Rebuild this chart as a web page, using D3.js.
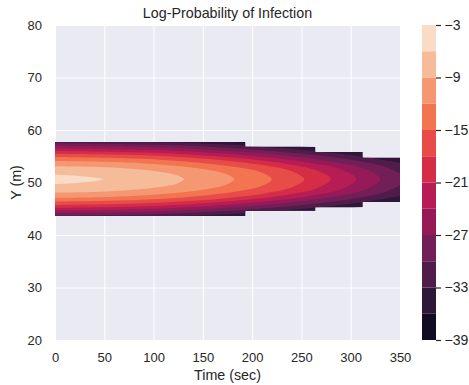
<!DOCTYPE html>
<html>
<head>
<meta charset="utf-8">
<script src="https://cdn.jsdelivr.net/npm/d3@7/dist/d3.min.js"></script>
<style>
  body { margin: 0; background: #fff; }
  text { font-family: "Liberation Sans", Arial, sans-serif; fill: #262626; }
</style>
</head>
<body>
<div id="chart"></div>
<script>
// colour levels of the filled contour (log-probability)
const levels = [-39, -36, -33, -30, -27, -24, -21, -18, -15, -12, -9, -6, -3];
const bandColors = ['#120b24', '#2f1739', '#501c4a', '#721f57', '#961a58', '#b71d54',
                    '#d62d47', '#e84c48', '#f27450', '#f59872', '#f6bb99', '#f9dbc6'];
const xTicks = [0, 50, 100, 150, 200, 250, 300, 350];
const yTicks = [20, 30, 40, 50, 60, 70, 80];
const cbarTicks = [-3, -9, -15, -21, -27, -33, -39];

// centre line of the plume (m)
const plumeY = 50.6;
// region where the field was computed: [t0, t1, yLow, yHigh]
const domainSteps = [
  [0, 193, 43.6, 57.7],
  [193, 264, 44.6, 56.8],
  [264, 312, 45.3, 55.8],
  [312, 350, 46.3, 54.7]
];

// contour lines: [time, half-width (m)] for each level
const contourLevels = [-36, -33, -30, -27, -24, -21, -18, -15, -12, -9, -6];
const halfWidths = [
  [[0, 7.9], [125, 7.54], [208, 6.84], [291, 5.64], [353, 4.16], [394, 2.46], [415, 0]],
  [[0, 7.4], [116, 7.06], [193, 6.41], [270, 5.28], [327, 3.9], [366, 2.31], [385, 0]],
  [[0, 6.9], [107, 6.58], [178, 5.98], [249, 4.93], [303, 3.64], [338, 2.15], [356, 0]],
  [[0, 6.4], [99, 6.11], [165, 5.54], [231, 4.57], [281, 3.37], [314, 2.0], [330, 0]],
  [[0, 5.9], [92, 5.63], [153, 5.11], [214, 4.21], [260, 3.11], [291, 1.84], [306, 0]],
  [[0, 5.4], [84, 5.15], [140, 4.68], [196, 3.86], [238, 2.85], [266, 1.68], [280, 0]],
  [[0, 4.9], [76, 4.67], [127, 4.24], [177, 3.5], [215, 2.58], [240, 1.53], [253, 0]],
  [[0, 4.25], [66, 4.05], [110, 3.68], [154, 3.03], [187, 2.24], [209, 1.33], [220, 0]],
  [[0, 3.5], [55, 3.34], [91, 3.03], [127, 2.5], [155, 1.84], [173, 1.09], [182, 0]],
  [[0, 2.5], [39, 2.39], [66, 2.17], [92, 1.79], [111, 1.32], [124, 0.78], [131, 0]],
  [[0, 0.9], [15, 0.8], [30, 0.55], [42, 0.3], [49, 0]]
];

const W = 469, H = 385;
const svg = d3.select('#chart').append('svg')
  .attr('width', W)
  .attr('height', H);

const x = d3.scaleLinear().domain([0, 350]).range([55, 400]);
const y = d3.scaleLinear().domain([20, 80]).range([340, 25]);

// axes background
svg.append('rect')
  .attr('x', x(0)).attr('y', y(80))
  .attr('width', x(350) - x(0)).attr('height', y(20) - y(80))
  .attr('fill', '#eaeaf2');

// grid
svg.append('g')
  .attr('transform', 'translate(0,' + y(20) + ')')
  .call(d3.axisBottom(x).tickValues(xTicks).tickSize(-(y(20) - y(80))).tickFormat(''))
  .call(g => g.select('.domain').remove())
  .call(g => g.selectAll('line').attr('stroke', '#fff').attr('stroke-width', 1));
svg.append('g')
  .attr('transform', 'translate(' + x(0) + ',0)')
  .call(d3.axisLeft(y).tickValues(yTicks).tickSize(-(x(350) - x(0))).tickFormat(''))
  .call(g => g.select('.domain').remove())
  .call(g => g.selectAll('line').attr('stroke', '#fff').attr('stroke-width', 1));

// staircase outline of the computed region
const domainPts = [];
domainSteps.forEach(s => { domainPts.push([s[0], s[3]], [s[1], s[3]]); });
domainSteps.slice().reverse().forEach(s => { domainPts.push([s[1], s[2]], [s[0], s[2]]); });
const domainPath = d3.line().x(d => x(d[0])).y(d => y(d[1]))(domainPts) + 'Z';

svg.append('clipPath').attr('id', 'field')
  .append('path').attr('d', domainPath);

const field = svg.append('g').attr('clip-path', 'url(#field)');

// lowest band fills the whole computed region
field.append('path')
  .attr('d', domainPath)
  .attr('fill', bandColors[0]);

// each higher level drawn on top
const contourLine = d3.line()
  .x(d => x(d[0]))
  .y(d => y(d[1]))
  .curve(d3.curveCatmullRom.alpha(0.5));

contourLevels.forEach((lev, i) => {
  const pts = halfWidths[i];
  const upper = pts.map(p => [p[0], plumeY + p[1]]);
  const lower = pts.slice(0, -1).reverse().map(p => [p[0], plumeY - p[1]]);
  field.append('path')
    .attr('d', contourLine(upper.concat(lower)) + 'Z')
    .attr('fill', bandColors[i + 1]);
});

// tick labels
svg.append('g')
  .attr('transform', 'translate(0,' + y(20) + ')')
  .call(d3.axisBottom(x).tickValues(xTicks).tickSize(0).tickPadding(13))
  .call(g => g.select('.domain').remove())
  .call(g => g.selectAll('text').style('font-size', '13px').attr('fill', '#262626'));
svg.append('g')
  .attr('transform', 'translate(' + x(0) + ',0)')
  .call(d3.axisLeft(y).tickValues(yTicks).tickSize(0).tickPadding(13))
  .call(g => g.select('.domain').remove())
  .call(g => g.selectAll('text').style('font-size', '13px').attr('fill', '#262626'));

// title and axis labels
svg.append('text')
  .attr('x', (x(0) + x(350)) / 2)
  .attr('y', 17.5)
  .style('text-anchor', 'middle')
  .style('font-size', '14.3px')
  .text('Log-Probability of Infection');

svg.append('text')
  .attr('x', (x(0) + x(350)) / 2)
  .attr('y', 379.5)
  .style('text-anchor', 'middle')
  .style('font-size', '14.3px')
  .text('Time (sec)');

svg.append('text')
  .attr('transform', 'rotate(-90)')
  .attr('x', -(y(20) + y(80)) / 2)
  .attr('y', 21)
  .style('text-anchor', 'middle')
  .style('font-size', '14.3px')
  .text('Y (m)');

// colorbar
const cb = d3.scaleLinear().domain([-39, -3]).range([340, 25]);
const cbLeft = 422, cbWidth = 14;
svg.append('g').selectAll('rect')
  .data(bandColors)
  .enter().append('rect')
  .attr('x', cbLeft)
  .attr('y', (d, i) => cb(levels[i + 1]))
  .attr('width', cbWidth)
  .attr('height', (d, i) => cb(levels[i]) - cb(levels[i + 1]))
  .attr('fill', d => d);

svg.append('g')
  .attr('transform', 'translate(' + (cbLeft + cbWidth) + ',0)')
  .call(d3.axisRight(cb).tickValues(cbarTicks).tickSize(5).tickPadding(3.5))
  .call(g => g.select('.domain').remove())
  .call(g => g.selectAll('line').attr('stroke', '#262626').attr('stroke-width', 1.2))
  .call(g => g.selectAll('text').style('font-size', '14px').attr('fill', '#262626'));
</script>
</body>
</html>
